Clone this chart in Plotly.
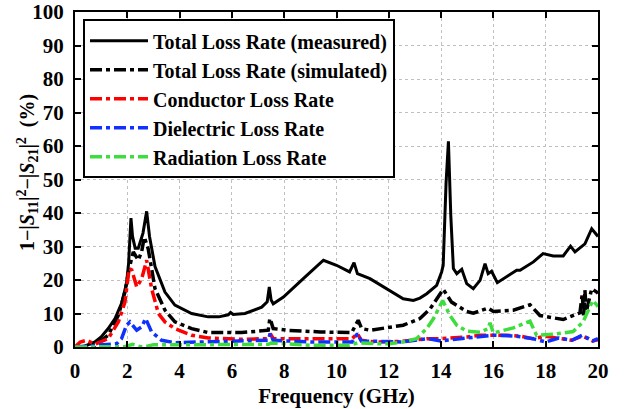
import plotly.graph_objects as go

# --- data ---
f_meas = [0.0, 0.3, 0.76, 1.0, 1.27, 1.53, 1.78, 1.97, 2.05, 2.14, 2.2, 2.3, 2.42, 2.6, 2.74, 2.85, 3.06, 3.44,
          3.82, 4.46, 5.09, 5.5, 5.86, 5.95, 6.05, 6.5, 7.14, 7.35, 7.43, 7.5, 7.58, 7.97, 8.73, 9.5, 10.0,
          10.5, 10.67, 10.8, 11.28, 11.92, 12.55, 12.94, 13.19, 13.45, 13.7, 13.83, 14.02, 14.08, 14.19,
          14.28, 14.37, 14.47, 14.6, 14.79, 14.98, 15.23, 15.49, 15.68, 15.8, 15.93, 16.15, 16.5, 16.89,
          17.02, 17.53, 17.9, 18.29, 18.67, 18.95, 19.12, 19.5, 19.76, 19.95, 20.0]
v_meas = [0.0, 0.0, 1.5, 3.0, 5.5, 8.5, 13.0, 19.0, 25.0, 38.5, 33.0, 29.5, 29.5, 34.0, 40.5, 33.0, 24.0, 16.4,
          12.5, 10.0, 9.0, 9.0, 9.6, 10.3, 9.7, 10.0, 11.9, 13.5, 17.9, 14.0, 12.9, 14.9, 20.4, 25.9, 24.4,
          22.4, 25.2, 21.9, 20.4, 17.4, 14.4, 13.9, 14.6, 15.9, 17.4, 18.4, 22.4, 24.4, 49.0,
          61.4, 39.3, 23.4, 21.9, 23.2, 18.9, 17.4, 19.9, 24.9, 21.9, 22.6, 19.2, 20.9, 22.9,
          22.9, 25.4, 27.9, 27.2, 27.2, 30.1, 28.4, 30.8, 35.3, 33.3, 33.0]

f_sim = [0.0, 0.3, 0.76, 1.27, 1.66, 1.91, 2.07, 2.23, 2.42, 2.55, 2.65, 2.8, 3.06, 3.44, 3.82, 4.46, 5.1,
         6.37, 7.39, 7.45, 7.5, 7.58, 8.1, 9.37, 10.58, 10.75, 10.83, 10.96, 11.28, 12.55, 13.19, 13.58,
         13.96, 14.08, 14.4, 14.85, 14.98, 15.23, 15.8, 16.0, 16.76, 17.4, 17.78, 18.29, 18.67, 19.31,
         19.4, 19.45, 19.5, 19.55, 19.76, 19.95, 20.0]
v_sim = [0.0, 0.0, 0.5, 3.5, 9.5, 16.4, 23.4, 28.4, 25.9, 28.5, 32.8, 29.3, 17.4, 11.0, 7.5, 5.5, 4.3,
         4.3, 5.0, 8.5, 7.5, 5.5, 5.0, 4.5, 4.3, 6.5, 8.0, 5.5, 5.0, 6.5, 8.5, 11.4,
         15.9, 17.2, 13.4, 11.0, 10.6, 10.1, 11.6, 10.6, 11.0, 12.6, 9.4, 8.7, 8.2, 10.2,
         16.0, 9.0, 17.0, 10.5, 17.4, 16.4, 16.0]

f_cond = [0.0, 0.2, 0.45, 0.76, 1.27, 1.66, 1.91, 2.07, 2.17, 2.36, 2.55, 2.74, 2.93, 3.19, 3.44, 3.82,
          4.46, 5.1, 6.37, 7.39, 7.47, 7.58, 9.0, 10.6, 10.8, 10.95, 11.5, 12.5, 13.5, 14.0, 15.0, 15.5,
          16.5, 17.0, 17.5, 18.0, 18.5, 19.0, 19.4, 19.8, 20.0]
v_cond = [0.0, 1.5, 2.0, 0.8, 2.5, 7.5, 13.4, 23.4, 23.0, 17.9, 20.4, 25.9, 17.4, 10.0, 7.5, 5.5,
          3.5, 2.7, 2.3, 2.5, 4.0, 2.5, 2.5, 2.5, 4.0, 2.0, 1.5, 1.7, 2.5, 2.5, 3.0, 3.5,
          3.5, 3.3, 2.5, 3.2, 2.6, 2.0, 3.3, 1.8, 2.2]

f_diel = [0.0, 0.76, 1.27, 1.6, 1.78, 1.97, 2.1, 2.36, 2.55, 2.7, 2.93, 3.31, 3.82, 4.46, 5.73, 7.39,
          7.47, 7.58, 9.0, 10.6, 10.8, 10.95, 12.5, 13.5, 14.0, 15.0, 16.0, 16.8, 17.5, 18.0, 18.5, 19.0,
          19.4, 19.8, 20.0]
v_diel = [0.0, 0.5, 1.0, 1.0, 2.5, 6.5, 7.5, 5.0, 6.0, 8.5, 4.5, 2.0, 1.3, 1.5, 1.7, 2.0,
          4.0, 2.0, 1.5, 1.5, 4.0, 1.8, 1.5, 2.5, 1.8, 2.7, 3.5, 3.3, 2.5, 1.5, 2.7, 2.0,
          3.5, 1.8, 2.5]

f_rad = [0.0, 1.9, 2.2, 2.5, 2.7, 3.0, 5.0, 7.4, 7.5, 9.0, 10.5, 10.8, 11.5, 12.0, 12.55, 13.06, 13.45,
         13.71, 13.9, 14.06, 14.34, 14.6, 14.98, 15.49, 15.8, 15.87, 16.0, 16.76, 17.4, 17.65, 18.29,
         19.05, 19.43, 19.8, 19.95, 20.0]
v_rad = [0.0, 0.1, 0.8, 0.1, 0.1, 0.7, 0.7, 0.8, 1.2, 0.5, 0.5, 1.2, 1.0, 1.0, 1.5, 2.5, 5.5,
         8.5, 11.4, 13.9, 9.4, 6.5, 4.7, 4.4, 5.5, 7.2, 4.2, 5.7, 7.7, 3.5, 3.8,
         4.6, 7.5, 13.9, 12.6, 12.0]

x_ticks = [0, 2, 4, 6, 8, 10, 12, 14, 16, 18, 20]
y_ticks = [0, 10, 20, 30, 40, 50, 60, 70, 80, 90, 100]

names = ["Total Loss Rate (measured)", "Total Loss Rate (simulated)", "Conductor Loss Rate",
         "Dielectric Loss Rate", "Radiation Loss Rate"]

DD = "12px,4px,4px,4px"
fig = go.Figure()
fig.add_trace(go.Scatter(x=f_meas, y=v_meas, mode="lines", name=names[0],
                         line=dict(color="black", width=3)))
fig.add_trace(go.Scatter(x=f_sim, y=v_sim, mode="lines", name=names[1],
                         line=dict(color="black", width=3.5, dash=DD)))
fig.add_trace(go.Scatter(x=f_cond, y=v_cond, mode="lines", name=names[2],
                         line=dict(color="#ff0000", width=3.5, dash=DD)))
fig.add_trace(go.Scatter(x=f_diel, y=v_diel, mode="lines", name=names[3],
                         line=dict(color="#1030ff", width=3.5, dash=DD)))
fig.add_trace(go.Scatter(x=f_rad, y=v_rad, mode="lines", name=names[4],
                         line=dict(color="#3ddd3d", width=3.5, dash=DD)))

font_family = "Liberation Serif"
axis_common = dict(showline=True, linewidth=2, linecolor="black", mirror="ticks",
                   ticks="inside", ticklen=6, tickwidth=1.5, tickcolor="black",
                   showgrid=True, gridcolor="#c0c0c0", griddash="dot", gridwidth=1,
                   zeroline=False, automargin=False, ticklabeloverflow="allow",
                   tickfont=dict(family=font_family, size=21, color="black", weight="bold"))

fig.update_layout(
    width=629, height=409,
    margin=dict(l=75, r=31, t=12, b=62),
    paper_bgcolor="white", plot_bgcolor="white",
    font=dict(family=font_family, color="black"),
    xaxis=dict(range=[0, 20], tickvals=x_ticks, ticktext=[str(t) for t in x_ticks],
               ticklabelstandoff=4,
               title=dict(text="<b>Frequency (GHz)</b>", font=dict(family=font_family, size=21),
                          standoff=6),
               **axis_common),
    yaxis=dict(range=[0, 100], tickvals=y_ticks, ticktext=[str(t) for t in y_ticks],
               ticklabelstandoff=5,
               **axis_common),
    legend=dict(x=0.0153, y=0.978, xanchor="left", yanchor="top",
                bgcolor="white", bordercolor="black", borderwidth=2,
                font=dict(family=font_family, size=20, color="black", weight="bold"),
                itemwidth=58, tracegroupgap=0),
    showlegend=True,
)

# y-axis title placed as a rotated annotation (closer to the tick labels, as in the reference)
fig.add_annotation(text="<b>1−|<i>S</i><sub>11</sub>|<sup>2</sup>−|<i>S</i><sub>21</sub>|<sup>2</sup>\u00a0\u00a0(%)</b>",
                   xref="paper", yref="paper", x=-0.0899, y=0.522, xanchor="center", yanchor="middle",
                   textangle=-90, showarrow=False,
                   font=dict(family=font_family, size=20, color="black"))

fig.write_html("out.html", config={"displayModeBar": False},
               post_script="document.body.style.margin='0';")
